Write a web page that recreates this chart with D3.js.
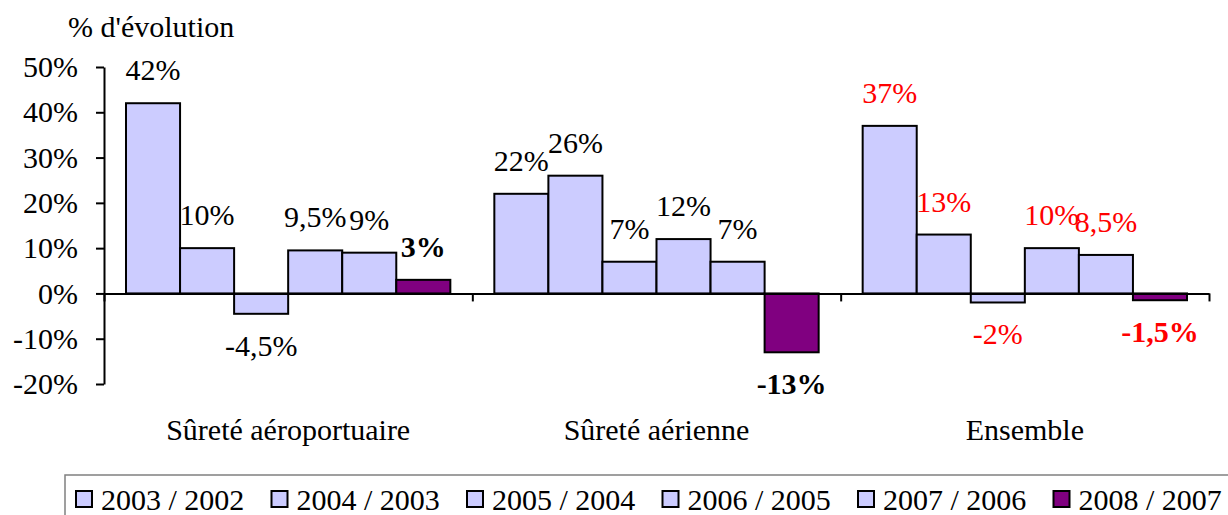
<!DOCTYPE html>
<html lang="fr">
<head>
    <meta charset="UTF-8">
    <title>% d'évolution</title>
    <script src="https://d3js.org/d3.v7.min.js"></script>
    <style>
        body {
            margin: 0;
            background: #fff;
            font-family: "Liberation Serif", "Times New Roman", serif;
        }
        svg { display: block; }
        .axis text {
            font-family: "Liberation Serif", "Times New Roman", serif;
            font-size: 30px;
            fill: #000;
        }
        .axis line, .axis path {
            stroke: #000;
            stroke-width: 2px;
            fill: none;
        }
    </style>
</head>
<body>
<svg id="chart" width="1228" height="515"></svg>
<script>
    var groups = ["Sûreté aéroportuaire", "Sûreté aérienne", "Ensemble"];
    var series = ["2003 / 2002", "2004 / 2003", "2005 / 2004", "2006 / 2005", "2007 / 2006", "2008 / 2007"];
    var seriesColors = ["#CCCCFF", "#CCCCFF", "#CCCCFF", "#CCCCFF", "#CCCCFF", "#800080"];
    // one array per group, in series order
    var aeroportuaire = [42, 10, -4.5, 9.5, 9, 3];
    var aerienne = [22, 26, 7, 12, 7, -13];
    var ensemble = [37, 13, -2, 10, 8.5, -1.5];
    var labelColors = ["#000", "#000", "#FF0000"];
    var yTicks = [-20, -10, 0, 10, 20, 30, 40, 50];

    var values = [aeroportuaire, aerienne, ensemble];
    var data = [];
    groups.forEach(function(g, gi) {
        series.forEach(function(s, si) {
            data.push({group: g, gi: gi, series: s, si: si, value: values[gi][si]});
        });
    });

    var margin = {left: 104, right: 19, top: 67},
        width = 1228 - margin.left - margin.right;

    var svg = d3.select("#chart");

    var y = d3.scaleLinear().domain([-20, 50]).range([384, 67]);
    var x0 = d3.scaleBand().domain(groups).range([margin.left, margin.left + width]);
    var x1 = d3.scaleBand().domain(series).range([22, x0.bandwidth() - 22]);

    function fmt(v) { return String(v).replace(".", ",") + "%"; }

    // title
    svg.append("text")
        .attr("x", 68)
        .attr("y", 37)
        .style("font-size", "30px")
        .text("% d'évolution");

    // y axis
    svg.append("g")
        .attr("class", "axis")
        .attr("transform", "translate(" + margin.left + ",0)")
        .call(d3.axisLeft(y).tickValues(yTicks).tickSize(8).tickSizeOuter(0).tickPadding(18)
            .tickFormat(function(d) { return d + "%"; }));

    // bars
    svg.append("g").selectAll("rect")
        .data(data)
        .enter().append("rect")
        .attr("x", function(d) { return x0(d.group) + x1(d.series); })
        .attr("width", x1.bandwidth())
        .attr("y", function(d) { return y(Math.max(0, d.value)); })
        .attr("height", function(d) { return Math.abs(y(d.value) - y(0)); })
        .attr("fill", function(d) { return seriesColors[d.si]; })
        .attr("stroke", "#000")
        .attr("stroke-width", 2);

    // x axis along zero line, ticks between groups
    var xb = d3.scaleLinear().domain([0, groups.length]).range([margin.left, margin.left + width]);
    svg.append("g")
        .attr("class", "axis")
        .attr("transform", "translate(0," + y(0) + ")")
        .call(d3.axisBottom(xb).tickValues(d3.range(groups.length + 1)).tickSize(8).tickSizeOuter(0).tickFormat(""));

    // value labels
    svg.append("g").selectAll("text")
        .data(data)
        .enter().append("text")
        .attr("x", function(d) { return x0(d.group) + x1(d.series) + x1.bandwidth() / 2; })
        .attr("y", function(d) { return d.value >= 0 ? y(d.value) - 23 : y(d.value) + 42; })
        .attr("text-anchor", "middle")
        .style("font-size", "30px")
        .style("font-weight", function(d) { return d.si === series.length - 1 ? "bold" : "normal"; })
        .attr("fill", function(d) { return labelColors[d.gi]; })
        .text(function(d) { return fmt(d.value); });

    // category labels
    svg.append("g").selectAll("text")
        .data(groups)
        .enter().append("text")
        .attr("x", function(d) { return x0(d) + x0.bandwidth() / 2; })
        .attr("y", 440)
        .attr("text-anchor", "middle")
        .style("font-size", "30px")
        .text(function(d) { return d; });

    // legend
    var legend = svg.append("g");
    legend.append("rect")
        .attr("x", 65).attr("y", 475)
        .attr("width", 1200).attr("height", 60)
        .attr("fill", "#fff")
        .attr("stroke", "#808080")
        .attr("stroke-width", 1.5);

    var lx = d3.scaleBand().domain(series).range([75, 75 + 195.5 * series.length]);
    var item = legend.selectAll(".item")
        .data(series)
        .enter().append("g")
        .attr("class", "item")
        .attr("transform", function(d) { return "translate(" + lx(d) + ",0)"; });
    item.append("rect")
        .attr("x", 1).attr("y", 491)
        .attr("width", 16).attr("height", 16)
        .attr("fill", function(d, i) { return seriesColors[i]; })
        .attr("stroke", "#000")
        .attr("stroke-width", 2);
    item.append("text")
        .attr("x", 26)
        .attr("y", 510)
        .style("font-size", "30px")
        .text(function(d) { return d; });
</script>
</body>
</html>
